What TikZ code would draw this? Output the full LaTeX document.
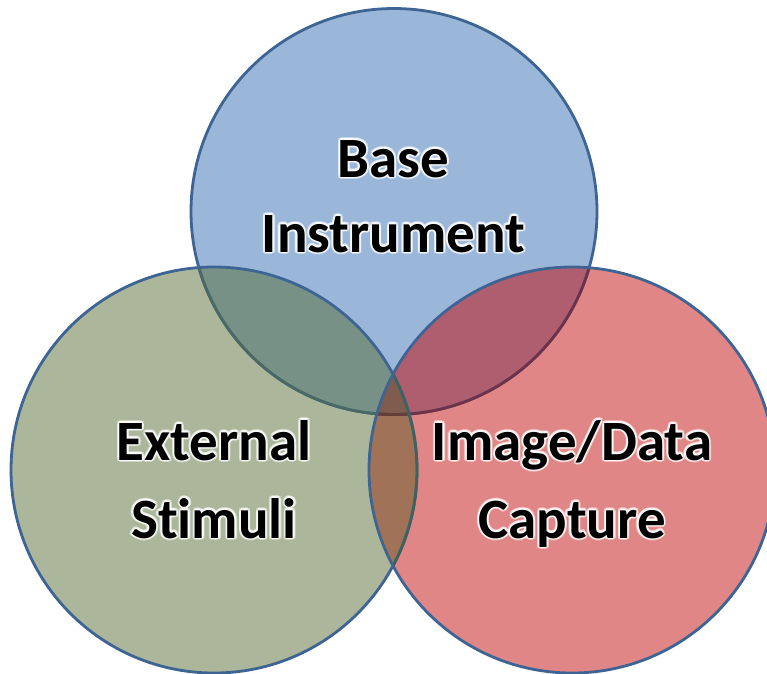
\documentclass[tikz,border=0pt]{standalone}
\usepackage{fontspec}
\setmainfont{Carlito}[Ligatures=NoCommon]
\definecolor{bfill}{RGB}{154,182,216}
\definecolor{gfill}{RGB}{171,182,154}
\definecolor{rfill}{RGB}{224,134,134}
\definecolor{bgfill}{RGB}{120,145,135}
\definecolor{brfill}{RGB}{175,94,112}
\definecolor{grfill}{RGB}{160,115,88}
\definecolor{bgrfill}{RGB}{128,92,78}
\definecolor{edge}{RGB}{62,100,148}
\definecolor{edgeInG}{RGB}{74,104,100}
\definecolor{edgeInR}{RGB}{112,48,72}
\definecolor{edgeInGR}{RGB}{100,62,55}
\definecolor{gedgeInR}{RGB}{62,98,92}
\tikzset{
  outline/.style={line width=2.8pt},
  labelsty/.style={font=\fontsize{57}{75}\selectfont\bfseries, text=black, inner sep=0pt},
  glowsty/.style={labelsty, text=white, opacity=0.45},
}
\newcommand\glowlabel[3]{%
  \foreach \a in {0,30,...,330}{\node[glowsty,anchor=base] at ([shift={(\a:2.2pt)}]#2) {#3};}
  \node[labelsty,anchor=base] (#1) at (#2) {#3};}
\begin{document}
\begin{tikzpicture}[x=1pt,y=-1pt]
\useasboundingbox (0,0) rectangle (767,673);
\clip (0,0) rectangle (767,673);
\coordinate (cb) at (394,211.5);
\coordinate (cg) at (214,470);
\coordinate (cr) at (572,470);
\def\R{203pt}
% fills
\fill[bfill] (cb) circle[radius=\R];
\fill[gfill] (cg) circle[radius=\R];
\begin{scope}\clip (cb) circle[radius=\R]; \fill[bgfill] (cg) circle[radius=\R];\end{scope}
\fill[rfill] (cr) circle[radius=\R];
\begin{scope}\clip (cb) circle[radius=\R]; \fill[brfill] (cr) circle[radius=\R];\end{scope}
\begin{scope}\clip (cg) circle[radius=\R]; \fill[grfill] (cr) circle[radius=\R];\end{scope}
\begin{scope}\clip (cb) circle[radius=\R]; \clip (cg) circle[radius=\R]; \fill[bgrfill] (cr) circle[radius=\R];\end{scope}
% blue outline
\draw[outline,edge] (cb) circle[radius=\R];
\begin{scope}\clip (cg) circle[radius=\R]; \draw[outline,edgeInG] (cb) circle[radius=\R];\end{scope}
\begin{scope}\clip (cr) circle[radius=\R]; \draw[outline,edgeInR] (cb) circle[radius=\R];\end{scope}
\begin{scope}\clip (cg) circle[radius=\R]; \clip (cr) circle[radius=\R]; \draw[outline,edgeInGR] (cb) circle[radius=\R];\end{scope}
% green outline
\draw[outline,edge] (cg) circle[radius=\R];
\begin{scope}\clip (cr) circle[radius=\R]; \draw[outline,gedgeInR] (cg) circle[radius=\R];\end{scope}
% red outline
\draw[outline,edge] (cr) circle[radius=\R];
% labels
\glowlabel{base}{393.5,177}{Base}
\glowlabel{instrument}{393.5,252}{Instrument}
\glowlabel{external}{214,460}{External}
\glowlabel{stimuli}{214,538}{Stimuli}
\glowlabel{image}{572,460}{Image/Data}
\glowlabel{capture}{572,538}{Capture}
\end{tikzpicture}
\end{document}
